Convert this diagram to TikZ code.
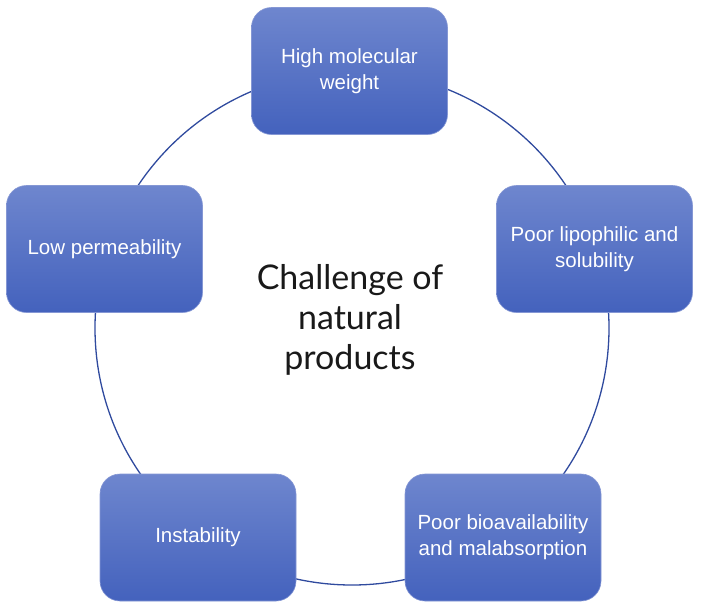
\documentclass[tikz,border=0pt]{standalone}
\usepackage{fontspec}
\setmainfont{Liberation Sans}
\newfontfamily\titlefont{Lato}
\usepackage{xcolor}
\usepackage{tikz}
\definecolor{boxtop}{HTML}{6E86CE}
\definecolor{boxbot}{HTML}{4462BD}
\definecolor{boxedge}{HTML}{8597D4}
\definecolor{ringline}{HTML}{2F4A9E}

\begin{document}
\begin{tikzpicture}[x=1pt, y=-1pt,
  box/.style={draw=boxedge, line width=0.6pt, rounded corners=20pt, top color=boxtop, bottom color=boxbot, minimum width=196pt, minimum height=127pt, inner sep=0pt, align=center, text=white, font=\fontsize{20.5}{26}\selectfont},
  ring/.style={draw=ringline, line width=1.3pt, circle, minimum size=514pt, inner sep=0pt},
  title/.style={align=center, text=black!90, font=\titlefont\fontsize{34}{40}\selectfont}]
  \useasboundingbox (0,0) rectangle (702,608);
  \node[ring] (cycle) at (352,328) {};
  \node[title] (chal) at (350,320) {Challenge of\\natural\\products};
  \node[box] (mw) at (349.5,71) {High molecular\\weight};
  \node[box] (lipo) at (594.5,249) {Poor lipophilic and\\solubility};
  \node[box] (bio) at (503,537.5) {Poor bioavailability\\and malabsorption};
  \node[box] (inst) at (198,537.5) {Instability};
  \node[box] (perm) at (104.5,249) {Low permeability};
\end{tikzpicture}
\end{document}
